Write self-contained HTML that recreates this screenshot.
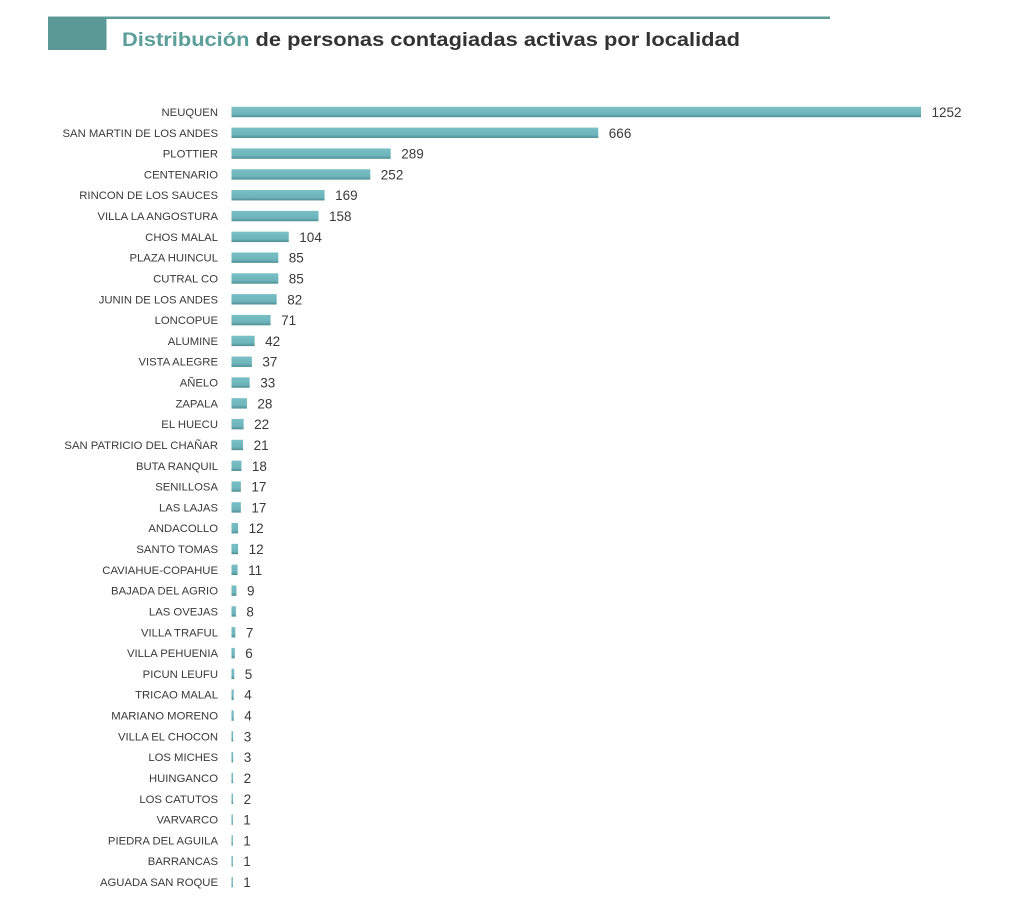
<!DOCTYPE html>
<html><head><meta charset="utf-8"><style>
html,body{margin:0;padding:0;background:#fff;}
svg{display:block;}
.l{font-size:11.3px;fill:#3a3a3a;text-anchor:end;}
.v{font-size:13.5px;fill:#3a3a3a;}
</style></head><body>
<svg width="1024" height="920" viewBox="0 0 1024 920" xmlns="http://www.w3.org/2000/svg" font-family="Liberation Sans, sans-serif">
<defs>
<linearGradient id="bg" x1="0" y1="0" x2="0" y2="1">
<stop offset="0" stop-color="#79bfc6"/>
<stop offset="0.7" stop-color="#6db4bb"/>
<stop offset="1" stop-color="#4f8e94"/>
</linearGradient>
</defs>
<rect x="0" y="0" width="1024" height="920" fill="#fff"/>
<rect x="48" y="16.5" width="782" height="2.5" fill="#5f9c99"/>
<rect x="48" y="17" width="58.5" height="33" fill="#5b9996"/>
<text x="122" y="46" font-weight="bold" font-size="19.5" fill="#333333" textLength="618" lengthAdjust="spacingAndGlyphs"><tspan fill="#5b9e9a">Distribución</tspan> de personas contagiadas activas por localidad</text>

<g transform="translate(0,112.00)"><rect x="231.5" y="-5.2" width="689.5" height="10.4" fill="url(#bg)"/><text class="l" x="218" y="4">NEUQUEN</text><text class="v" x="931.5" y="5">1252</text></g>
<g transform="translate(0,132.81)"><rect x="231.5" y="-5.2" width="366.78" height="10.4" fill="url(#bg)"/><text class="l" x="218" y="4">SAN MARTIN DE LOS ANDES</text><text class="v" x="608.8" y="5">666</text></g>
<g transform="translate(0,153.62)"><rect x="231.5" y="-5.2" width="159.16" height="10.4" fill="url(#bg)"/><text class="l" x="218" y="4">PLOTTIER</text><text class="v" x="401.2" y="5">289</text></g>
<g transform="translate(0,174.43)"><rect x="231.5" y="-5.2" width="138.78" height="10.4" fill="url(#bg)"/><text class="l" x="218" y="4">CENTENARIO</text><text class="v" x="380.8" y="5">252</text></g>
<g transform="translate(0,195.24)"><rect x="231.5" y="-5.2" width="93.07" height="10.4" fill="url(#bg)"/><text class="l" x="218" y="4">RINCON DE LOS SAUCES</text><text class="v" x="335.1" y="5">169</text></g>
<g transform="translate(0,216.05)"><rect x="231.5" y="-5.2" width="87.01" height="10.4" fill="url(#bg)"/><text class="l" x="218" y="4">VILLA LA ANGOSTURA</text><text class="v" x="329.0" y="5">158</text></g>
<g transform="translate(0,236.86)"><rect x="231.5" y="-5.2" width="57.27" height="10.4" fill="url(#bg)"/><text class="l" x="218" y="4">CHOS MALAL</text><text class="v" x="299.3" y="5">104</text></g>
<g transform="translate(0,257.68)"><rect x="231.5" y="-5.2" width="46.81" height="10.4" fill="url(#bg)"/><text class="l" x="218" y="4">PLAZA HUINCUL</text><text class="v" x="288.8" y="5">85</text></g>
<g transform="translate(0,278.49)"><rect x="231.5" y="-5.2" width="46.81" height="10.4" fill="url(#bg)"/><text class="l" x="218" y="4">CUTRAL CO</text><text class="v" x="288.8" y="5">85</text></g>
<g transform="translate(0,299.30)"><rect x="231.5" y="-5.2" width="45.16" height="10.4" fill="url(#bg)"/><text class="l" x="218" y="4">JUNIN DE LOS ANDES</text><text class="v" x="287.2" y="5">82</text></g>
<g transform="translate(0,320.11)"><rect x="231.5" y="-5.2" width="39.10" height="10.4" fill="url(#bg)"/><text class="l" x="218" y="4">LONCOPUE</text><text class="v" x="281.1" y="5">71</text></g>
<g transform="translate(0,340.92)"><rect x="231.5" y="-5.2" width="23.13" height="10.4" fill="url(#bg)"/><text class="l" x="218" y="4">ALUMINE</text><text class="v" x="265.1" y="5">42</text></g>
<g transform="translate(0,361.73)"><rect x="231.5" y="-5.2" width="20.38" height="10.4" fill="url(#bg)"/><text class="l" x="218" y="4">VISTA ALEGRE</text><text class="v" x="262.4" y="5">37</text></g>
<g transform="translate(0,382.54)"><rect x="231.5" y="-5.2" width="18.17" height="10.4" fill="url(#bg)"/><text class="l" x="218" y="4">AÑELO</text><text class="v" x="260.2" y="5">33</text></g>
<g transform="translate(0,403.35)"><rect x="231.5" y="-5.2" width="15.42" height="10.4" fill="url(#bg)"/><text class="l" x="218" y="4">ZAPALA</text><text class="v" x="257.4" y="5">28</text></g>
<g transform="translate(0,424.16)"><rect x="231.5" y="-5.2" width="12.12" height="10.4" fill="url(#bg)"/><text class="l" x="218" y="4">EL HUECU</text><text class="v" x="254.1" y="5">22</text></g>
<g transform="translate(0,444.97)"><rect x="231.5" y="-5.2" width="11.57" height="10.4" fill="url(#bg)"/><text class="l" x="218" y="4">SAN PATRICIO DEL CHAÑAR</text><text class="v" x="253.6" y="5">21</text></g>
<g transform="translate(0,465.78)"><rect x="231.5" y="-5.2" width="9.91" height="10.4" fill="url(#bg)"/><text class="l" x="218" y="4">BUTA RANQUIL</text><text class="v" x="251.9" y="5">18</text></g>
<g transform="translate(0,486.59)"><rect x="231.5" y="-5.2" width="9.36" height="10.4" fill="url(#bg)"/><text class="l" x="218" y="4">SENILLOSA</text><text class="v" x="251.4" y="5">17</text></g>
<g transform="translate(0,507.41)"><rect x="231.5" y="-5.2" width="9.36" height="10.4" fill="url(#bg)"/><text class="l" x="218" y="4">LAS LAJAS</text><text class="v" x="251.4" y="5">17</text></g>
<g transform="translate(0,528.22)"><rect x="231.5" y="-5.2" width="6.61" height="10.4" fill="url(#bg)"/><text class="l" x="218" y="4">ANDACOLLO</text><text class="v" x="248.6" y="5">12</text></g>
<g transform="translate(0,549.03)"><rect x="231.5" y="-5.2" width="6.61" height="10.4" fill="url(#bg)"/><text class="l" x="218" y="4">SANTO TOMAS</text><text class="v" x="248.6" y="5">12</text></g>
<g transform="translate(0,569.84)"><rect x="231.5" y="-5.2" width="6.06" height="10.4" fill="url(#bg)"/><text class="l" x="218" y="4">CAVIAHUE-COPAHUE</text><text class="v" x="248.1" y="5">11</text></g>
<g transform="translate(0,590.65)"><rect x="231.5" y="-5.2" width="4.96" height="10.4" fill="url(#bg)"/><text class="l" x="218" y="4">BAJADA DEL AGRIO</text><text class="v" x="247.0" y="5">9</text></g>
<g transform="translate(0,611.46)"><rect x="231.5" y="-5.2" width="4.41" height="10.4" fill="url(#bg)"/><text class="l" x="218" y="4">LAS OVEJAS</text><text class="v" x="246.4" y="5">8</text></g>
<g transform="translate(0,632.27)"><rect x="231.5" y="-5.2" width="3.86" height="10.4" fill="url(#bg)"/><text class="l" x="218" y="4">VILLA TRAFUL</text><text class="v" x="245.9" y="5">7</text></g>
<g transform="translate(0,653.08)"><rect x="231.5" y="-5.2" width="3.30" height="10.4" fill="url(#bg)"/><text class="l" x="218" y="4">VILLA PEHUENIA</text><text class="v" x="245.3" y="5">6</text></g>
<g transform="translate(0,673.89)"><rect x="231.5" y="-5.2" width="2.75" height="10.4" fill="url(#bg)"/><text class="l" x="218" y="4">PICUN LEUFU</text><text class="v" x="244.8" y="5">5</text></g>
<g transform="translate(0,694.70)"><rect x="231.5" y="-5.2" width="2.20" height="10.4" fill="url(#bg)"/><text class="l" x="218" y="4">TRICAO MALAL</text><text class="v" x="244.2" y="5">4</text></g>
<g transform="translate(0,715.51)"><rect x="231.5" y="-5.2" width="2.20" height="10.4" fill="url(#bg)"/><text class="l" x="218" y="4">MARIANO MORENO</text><text class="v" x="244.2" y="5">4</text></g>
<g transform="translate(0,736.32)"><rect x="231.5" y="-5.2" width="1.65" height="10.4" fill="url(#bg)"/><text class="l" x="218" y="4">VILLA EL CHOCON</text><text class="v" x="243.7" y="5">3</text></g>
<g transform="translate(0,757.14)"><rect x="231.5" y="-5.2" width="1.65" height="10.4" fill="url(#bg)"/><text class="l" x="218" y="4">LOS MICHES</text><text class="v" x="243.7" y="5">3</text></g>
<g transform="translate(0,777.95)"><rect x="231.5" y="-5.2" width="1.6" height="10.4" fill="url(#bg)"/><text class="l" x="218" y="4">HUINGANCO</text><text class="v" x="243.6" y="5">2</text></g>
<g transform="translate(0,798.76)"><rect x="231.5" y="-5.2" width="1.6" height="10.4" fill="url(#bg)"/><text class="l" x="218" y="4">LOS CATUTOS</text><text class="v" x="243.6" y="5">2</text></g>
<g transform="translate(0,819.57)"><rect x="231.5" y="-5.2" width="1.4" height="10.4" fill="url(#bg)"/><text class="l" x="218" y="4">VARVARCO</text><text class="v" x="243.2" y="5">1</text></g>
<g transform="translate(0,840.38)"><rect x="231.5" y="-5.2" width="1.4" height="10.4" fill="url(#bg)"/><text class="l" x="218" y="4">PIEDRA DEL AGUILA</text><text class="v" x="243.2" y="5">1</text></g>
<g transform="translate(0,861.19)"><rect x="231.5" y="-5.2" width="1.4" height="10.4" fill="url(#bg)"/><text class="l" x="218" y="4">BARRANCAS</text><text class="v" x="243.2" y="5">1</text></g>
<g transform="translate(0,882.00)"><rect x="231.5" y="-5.2" width="1.4" height="10.4" fill="url(#bg)"/><text class="l" x="218" y="4">AGUADA SAN ROQUE</text><text class="v" x="243.2" y="5">1</text></g>
</svg>
</body></html>
